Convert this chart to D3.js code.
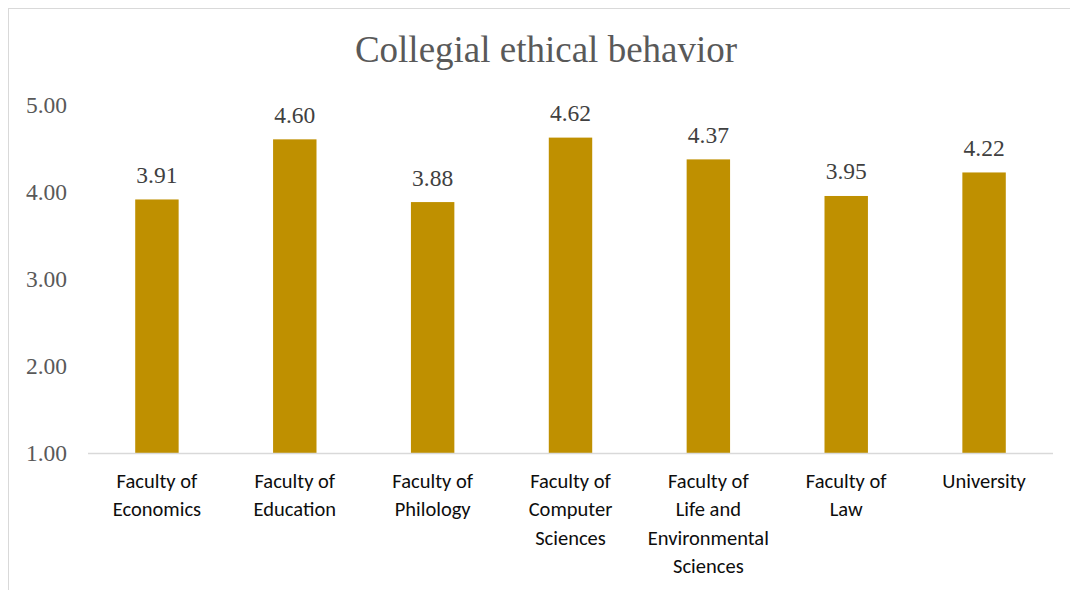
<!DOCTYPE html>
<html>
<head>
<meta charset="utf-8">
<script src="https://cdn.jsdelivr.net/npm/d3@7"></script>
<style>
  html, body { margin: 0; padding: 0; background: #fff; }
  svg { display: block; }
</style>
</head>
<body>
<svg id="chart" width="1070" height="590"></svg>
<script>
// Chart data
const categories = [
  ["Faculty of", "Economics"],
  ["Faculty of", "Education"],
  ["Faculty of", "Philology"],
  ["Faculty of", "Computer", "Sciences"],
  ["Faculty of", "Life and", "Environmental", "Sciences"],
  ["Faculty of", "Law"],
  ["University"]
];
const values = [3.91, 4.60, 3.88, 4.62, 4.37, 3.95, 4.22];
const yTicks = [1, 2, 3, 4, 5];
const title = "Collegial ethical behavior";

const svg = d3.select("#chart");
const W = 1070, H = 590;
const plot = { left: 88, right: 1053, top: 104.5, bottom: 453 };
const serif = "'Liberation Serif', 'Times New Roman', serif";
const sans = "Carlito, Lato, 'Liberation Sans', sans-serif";

// Outer chart frame
svg.append("rect")
  .attr("x", 8.5).attr("y", 8.5)
  .attr("width", W + 10).attr("height", H + 10)
  .attr("fill", "#fff").attr("stroke", "#d9d9d9").attr("stroke-width", 1);

const x = d3.scaleBand()
  .domain(d3.range(categories.length))
  .range([plot.left, plot.right])
  .paddingInner(0.685)
  .paddingOuter(0.3425);

const y = d3.scaleLinear().domain([1, 5]).range([plot.bottom, plot.top]);

// Title
svg.append("text")
  .attr("x", 546).attr("y", 62)
  .attr("text-anchor", "middle")
  .attr("font-family", serif)
  .attr("font-size", 37)
  .attr("fill", "#595959")
  .text(title);

// Y axis labels
const yAxis = d3.axisLeft(y).tickValues(yTicks).tickFormat(d3.format(".2f")).tickSize(0).tickPadding(0);
const yg = svg.append("g").attr("transform", `translate(67,0)`).call(yAxis);
yg.select(".domain").remove();
yg.selectAll("text")
  .attr("font-family", serif)
  .attr("font-size", 23.5)
  .attr("fill", "#595959");

// Bars
svg.append("g").selectAll("rect")
  .data(values)
  .join("rect")
  .attr("x", (d, i) => x(i))
  .attr("width", x.bandwidth())
  .attr("y", d => y(d))
  .attr("height", d => y(1) - y(d))
  .attr("fill", "#bf9000");

// Value labels
svg.append("g").selectAll("text")
  .data(values)
  .join("text")
  .attr("x", (d, i) => x(i) + x.bandwidth() / 2)
  .attr("y", d => y(d) - 16.5)
  .attr("text-anchor", "middle")
  .attr("font-family", serif)
  .attr("font-size", 23.5)
  .attr("fill", "#404040")
  .text(d => d3.format(".2f")(d));

// Baseline
svg.append("line")
  .attr("x1", plot.left).attr("x2", plot.right)
  .attr("y1", y(1) + 0.5).attr("y2", y(1) + 0.5)
  .attr("stroke", "#d9d9d9").attr("stroke-width", 1.5);

// Category labels (wrapped lines)
const xg = svg.append("g");
categories.forEach((lines, i) => {
  const t = xg.append("text")
    .attr("text-anchor", "middle")
    .attr("font-family", sans)
    .attr("font-size", 20.5)
    .attr("fill", "#0d0d0d");
  lines.forEach((ln, j) => {
    t.append("tspan")
      .attr("x", x(i) + x.bandwidth() / 2)
      .attr("y", 488 + j * 28.3)
      .text(ln);
  });
});
</script>
</body>
</html>
